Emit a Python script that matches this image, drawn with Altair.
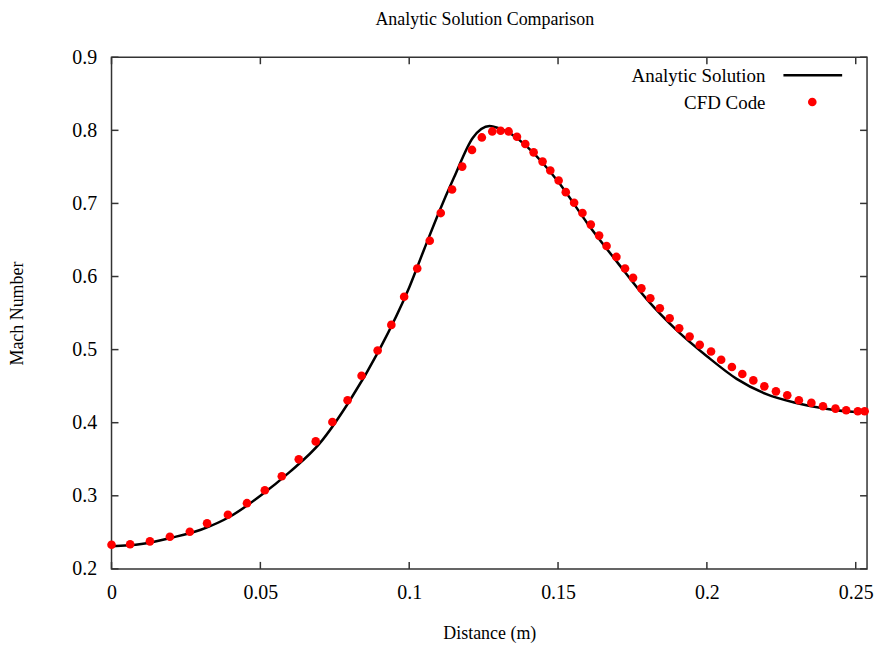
import altair as alt
import pandas as pd

# CFD Code points (Distance m, Mach number)
cfd_x = [0.0, 0.00625, 0.0129, 0.0196, 0.0263, 0.0321, 0.0391, 0.0455, 0.0515, 0.0572,
         0.0629, 0.0686, 0.0742, 0.0793, 0.0840, 0.0894, 0.0940, 0.0983, 0.1027, 0.1069,
         0.1106, 0.1144, 0.1178, 0.1211, 0.1244, 0.1279, 0.1307, 0.1334, 0.1362, 0.1390,
         0.1418, 0.1448, 0.1474, 0.1502, 0.1526, 0.1554, 0.1582, 0.1610, 0.1638, 0.1663,
         0.1696, 0.1725, 0.1752, 0.1780, 0.1810, 0.1842, 0.1875, 0.1907, 0.1942, 0.1976,
         0.2014, 0.2048, 0.2084, 0.2119, 0.2156, 0.2193, 0.2232, 0.2270, 0.2309, 0.2351,
         0.2390, 0.2432, 0.2468, 0.2507, 0.2530]
cfd_y = [0.2331, 0.2337, 0.2377, 0.2440, 0.2508, 0.2623, 0.2740, 0.2899, 0.3076, 0.3267,
         0.3499, 0.3744, 0.4010, 0.4307, 0.4643, 0.4988, 0.5338, 0.5723, 0.6110, 0.6489,
         0.6868, 0.7191, 0.7504, 0.7732, 0.7903, 0.7985, 0.7995, 0.7985, 0.7913, 0.7813,
         0.7699, 0.7572, 0.7450, 0.7313, 0.7154, 0.7010, 0.6868, 0.6710, 0.6560, 0.6418,
         0.6268, 0.6110, 0.5982, 0.5838, 0.5702, 0.5565, 0.5429, 0.5293, 0.5178, 0.5065,
         0.4974, 0.4861, 0.4762, 0.4666, 0.4579, 0.4497, 0.4429, 0.4375, 0.4307, 0.4271,
         0.4225, 0.4193, 0.4170, 0.4157, 0.4157]

# Analytic solution curve
ana_x = [0.0, 0.01, 0.02, 0.03, 0.04, 0.05, 0.06, 0.07, 0.08, 0.09, 0.10, 0.105, 0.11,
         0.115, 0.1214, 0.127, 0.13, 0.135, 0.14, 0.15, 0.16, 0.17, 0.18, 0.19,
         0.20, 0.21, 0.22, 0.23, 0.24, 0.25, 0.2538]
ana_y = [0.231, 0.234, 0.2425, 0.2535, 0.272, 0.300, 0.333, 0.372, 0.430, 0.500, 0.585,
         0.637, 0.688, 0.735, 0.790, 0.806, 0.803, 0.793, 0.776, 0.730, 0.672,
         0.619, 0.568, 0.526, 0.491, 0.460, 0.439, 0.427, 0.419, 0.4145, 0.414]

x_ticks = [0.0, 0.05, 0.10, 0.15, 0.20, 0.25]
y_ticks = [0.2, 0.3, 0.4, 0.5, 0.6, 0.7, 0.8, 0.9]

W, H = 759, 514
FONT = "Liberation Serif"
TICK = 7

cfd = pd.DataFrame({"x": cfd_x, "y": cfd_y})
ana = pd.DataFrame({"x": ana_x, "y": ana_y})
xt = pd.DataFrame({"v": x_ticks})
yt = pd.DataFrame({"v": y_ticks})
one = pd.DataFrame({"a": [0]})

xs = alt.Scale(domain=[0, 0.2538], nice=False, zero=False)
ys = alt.Scale(domain=[0.2, 0.9], nice=False, zero=False)

line = alt.Chart(ana).mark_line(color="black", strokeWidth=2.5, interpolate="monotone").encode(
    x=alt.X("x:Q", scale=xs,
            axis=alt.Axis(values=x_ticks, title="Distance (m)", tickSize=0, labelFlush=False,
                          labelPadding=14, format="~g", titleY=65, titleBaseline="middle")),
    y=alt.Y("y:Q", scale=ys,
            axis=alt.Axis(values=y_ticks, title="Mach Number", tickSize=0, labelFlush=False,
                          labelPadding=15, format=".1f", titleX=-94, titleY=H / 2,
                          titleBaseline="middle", titleAngle=-90)),
)

pts = alt.Chart(cfd).mark_point(filled=True, shape="circle", size=75, color="#ff0000",
                                opacity=1).encode(
    x=alt.X("x:Q", scale=xs), y=alt.Y("y:Q", scale=ys)
)

tick_col = "#333333"
xb = alt.Chart(xt).mark_rule(color=tick_col, strokeWidth=1.5).encode(
    x=alt.X("v:Q", scale=xs), y=alt.value(H), y2=alt.value(H - TICK))
xtp = alt.Chart(xt).mark_rule(color=tick_col, strokeWidth=1.5).encode(
    x=alt.X("v:Q", scale=xs), y=alt.value(0), y2=alt.value(TICK))
yl = alt.Chart(yt).mark_rule(color=tick_col, strokeWidth=1.5).encode(
    y=alt.Y("v:Q", scale=ys), x=alt.value(0), x2=alt.value(TICK))
yr = alt.Chart(yt).mark_rule(color=tick_col, strokeWidth=1.5).encode(
    y=alt.Y("v:Q", scale=ys), x=alt.value(W), x2=alt.value(W - TICK))

leg_font = 19
leg1 = alt.Chart(one).mark_text(text="Analytic Solution", align="right", baseline="middle",
                                font=FONT, fontSize=leg_font, color="black").encode(
    x=alt.value(657), y=alt.value(19))
leg2 = alt.Chart(one).mark_text(text="CFD Code", align="right", baseline="middle",
                                font=FONT, fontSize=leg_font, color="black").encode(
    x=alt.value(657), y=alt.value(46))
leg_line = alt.Chart(one).mark_rule(color="black", strokeWidth=2.5).encode(
    x=alt.value(675), x2=alt.value(734), y=alt.value(18))
leg_pt = alt.Chart(one).mark_point(filled=True, shape="circle", size=75, color="#ff0000",
                                   opacity=1).encode(x=alt.value(704), y=alt.value(45))

title = alt.Chart(one).mark_text(text="Analytic Solution Comparison", align="center",
                                 baseline="middle", font=FONT, fontSize=18,
                                 color="black").encode(x=alt.value(375), y=alt.value(-37))

chart = alt.layer(xb, xtp, yl, yr, line, pts, leg1, leg2, leg_line, leg_pt, title).properties(
    width=W, height=H,
    autosize=alt.AutoSizeParams(type="none"),
    padding={"left": 104, "top": 48, "right": 8, "bottom": 76},
).configure(
    background="white",
    view=alt.ViewConfig(stroke="#333333", strokeWidth=1.5),
    axis=alt.AxisConfig(
        labelFont=FONT, labelFontSize=20, labelColor="black",
        titleFont=FONT, titleFontSize=18, titleFontWeight="normal", titleColor="black",
        grid=False, domain=False,
    ),
)

chart.save("out.html", embed_options={"renderer": "svg", "actions": False})
